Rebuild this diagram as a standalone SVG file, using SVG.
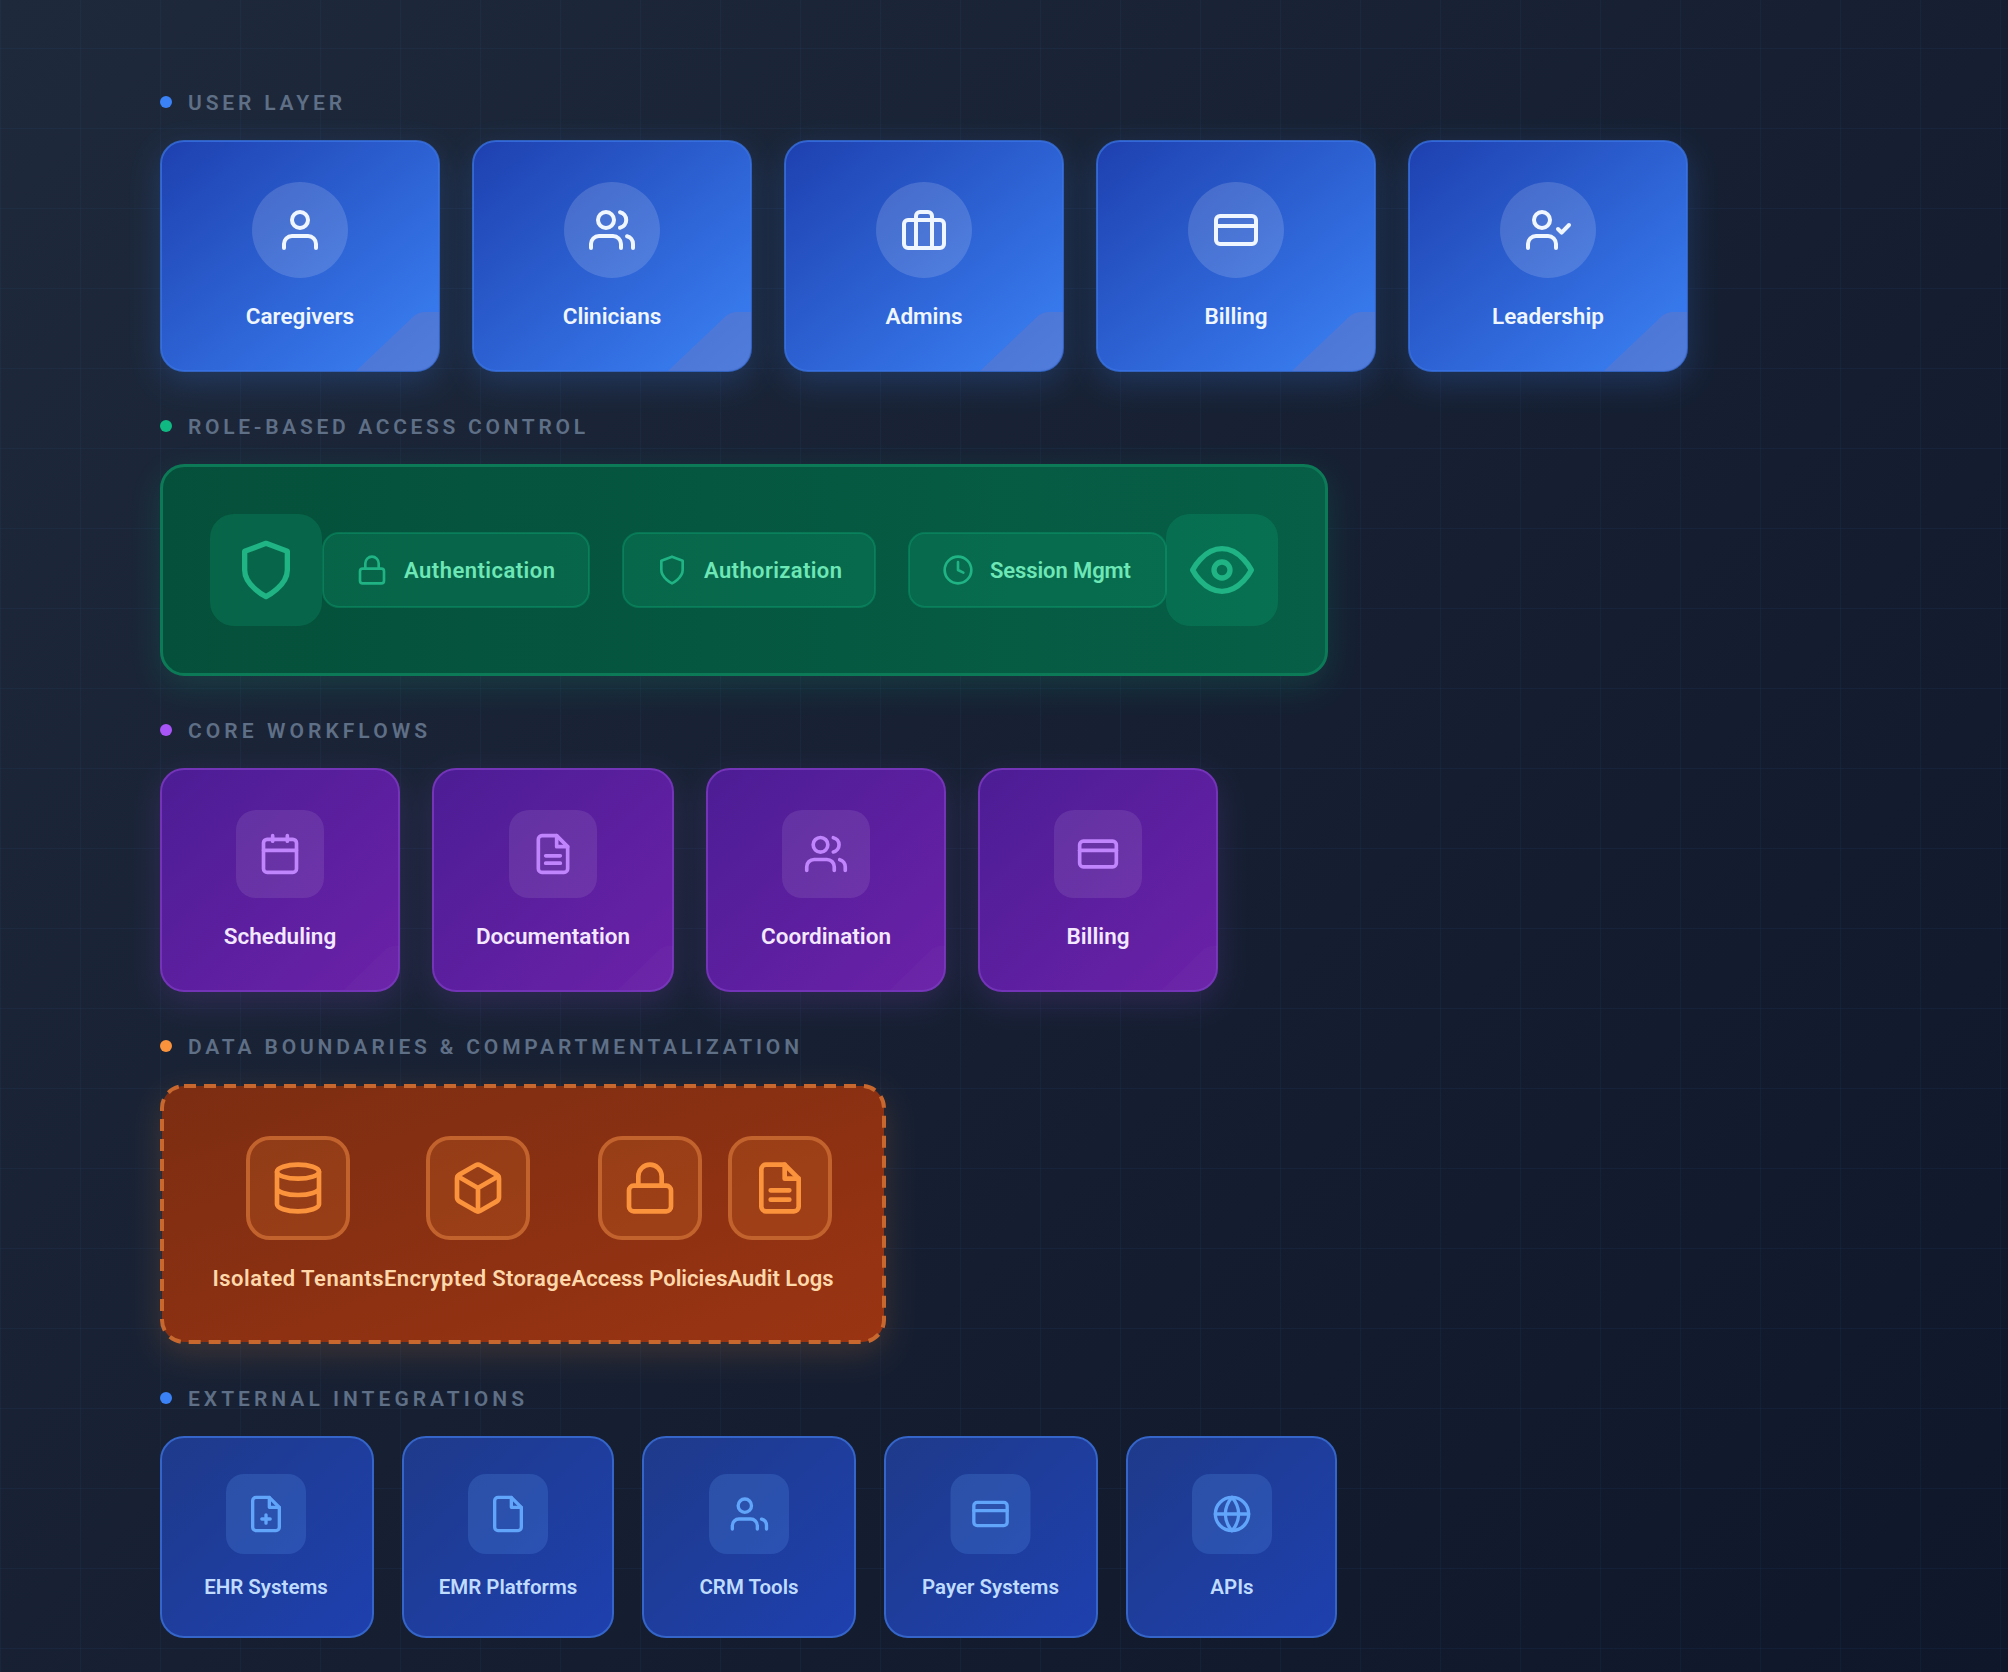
<svg xmlns="http://www.w3.org/2000/svg" width="2008" height="1672" viewBox="0 0 2008 1672">
<style>
text{font-family:"Roboto","Noto Sans",sans-serif}
.sec{font-size:21px;font-weight:600;fill:#5f6f86}
.lbl{font-weight:600;text-anchor:middle}
.ic{fill:none;stroke-linecap:round;stroke-linejoin:round}
.u-sh{fill:#3b82f6;opacity:.22}
.u-card{fill:url(#gU);stroke:#3a74e6;stroke-opacity:.75;stroke-width:2}
.u-cir{fill:#fff;fill-opacity:.15}
.u-ic{stroke:#eff6ff;stroke-width:2}
.u-t{font-size:22.500px;fill:#eff6ff}
.pill{fill:#10b981;fill-opacity:.18;stroke:#10b981;stroke-opacity:.3;stroke-width:2}
.g-ic{stroke:#20b384;stroke-width:2}
.g-t{font-size:22px;font-weight:600;fill:#6ee7b7}
.g-box{fill:#10b981;fill-opacity:.2}
.p-sh{fill:#a855f7;opacity:.16}
.p-card{fill:url(#gP);stroke:#7434b8;stroke-width:2}
.p-box{fill:#fff;fill-opacity:.09}
.p-ic{stroke:#c084fc;stroke-width:2}
.p-t{font-size:22.500px;fill:#f3e8ff}
.o-box{fill:#fb923c;fill-opacity:.14;stroke:#c2622d;stroke-width:4}
.o-ic{stroke:#fb923c;stroke-width:2}
.o-t{font-size:22px;font-weight:600;fill:#fed7aa}
.e-card{fill:url(#gE);stroke:#3565c8;stroke-width:2}
.e-box{fill:#60a5fa;fill-opacity:.2}
.e-ic{stroke:#60a5fa;stroke-width:2}
.e-t{font-size:20.500px;fill:#bfdbfe}
</style>
<defs>
<linearGradient id="bg" gradientUnits="userSpaceOnUse" x1="84" y1="-84" x2="1924" y2="1756"><stop offset="0" stop-color="#1e293b"/><stop offset="1" stop-color="#0f172a"/></linearGradient>
<linearGradient id="gU" x1="0" y1="0" x2="1" y2="1"><stop offset="0" stop-color="#1e40af"/><stop offset="1" stop-color="#3b82f6"/></linearGradient>
<linearGradient id="gG" x1="0" y1="0" x2="1" y2="0"><stop offset="0" stop-color="#05503a"/><stop offset="1" stop-color="#065f46"/></linearGradient>
<linearGradient id="gP" x1="0" y1="0" x2="1" y2="1"><stop offset="0" stop-color="#4c1d95"/><stop offset="1" stop-color="#6b21a8"/></linearGradient>
<linearGradient id="gO" x1="0" y1="0" x2="1" y2="1"><stop offset="0" stop-color="#7c2d12"/><stop offset="1" stop-color="#9a3412"/></linearGradient>
<linearGradient id="gE" x1="0" y1="0" x2="1" y2="1"><stop offset="0" stop-color="#1e3a8a"/><stop offset="1" stop-color="#1e40af"/></linearGradient>
<pattern id="grid" width="80" height="80" patternUnits="userSpaceOnUse" patternTransform="translate(0 48)"><path d="M.5 0V80M0 .5H80" fill="none" stroke="#3b82f6" stroke-opacity=".05"/></pattern>
<filter id="sh" x="-30%" y="-30%" width="160%" height="170%"><feGaussianBlur stdDeviation="16"/></filter>
<symbol id="i-user" viewBox="0 0 24 24"><circle cx="12" cy="7" r="4"/><path d="M4 21v-2a4 4 0 0 1 4-4h8a4 4 0 0 1 4 4v2"/></symbol>
<symbol id="i-users" viewBox="0 0 24 24"><circle cx="9" cy="7" r="4"/><path d="M1.500 21v-2a4 4 0 0 1 4-4h7a4 4 0 0 1 4 4v2M16 3.100a4 4 0 0 1 0 7.800M22.500 21v-2a4 4 0 0 0-3-3.900"/></symbol>
<symbol id="i-users2" viewBox="0 0 24 24"><circle cx="9.500" cy="7" r="4"/><path d="M2 21v-2a4 4 0 0 1 4-4h7a4 4 0 0 1 4 4v2M22.500 21v-2a4 4 0 0 0-3-3.900"/></symbol>
<symbol id="i-case" viewBox="0 0 24 24"><rect x="2" y="7" width="20" height="14" rx="2"/><path d="M16 21V5a2 2 0 0 0-2-2h-4a2 2 0 0 0-2 2v16"/></symbol>
<symbol id="i-card" viewBox="0 0 24 24"><rect x="2" y="5" width="20" height="14" rx="2"/><path d="M2 10h20"/></symbol>
<symbol id="i-ucheck" viewBox="0 0 24 24"><circle cx="9" cy="7" r="4"/><path d="M2 21v-2a4 4 0 0 1 4-4h6a4 4 0 0 1 4 4v2M17 11.500l1.800 1.800 3.700-3.800"/></symbol>
<symbol id="i-shield" viewBox="0 0 24 24"><path d="M12 22s8-4 8-10V5l-8-3-8 3v7c0 6 8 10 8 10z"/></symbol>
<symbol id="i-lock" viewBox="0 0 24 24"><rect x="3" y="11" width="18" height="11" rx="2"/><path d="M7 11V7a5 5 0 0 1 10 0v4"/></symbol>
<symbol id="i-clock" viewBox="0 0 24 24"><circle cx="12" cy="12" r="10"/><path d="M12 6v6l4 2"/></symbol>
<symbol id="i-eye" viewBox="0 0 24 24"><path d="M1 12s4-8 11-8 11 8 11 8-4 8-11 8-11-8-11-8z"/><circle cx="12" cy="12" r="3"/></symbol>
<symbol id="i-cal" viewBox="0 0 24 24"><rect x="3" y="4" width="18" height="18" rx="2"/><path d="M16 2v3M8 2v3M3 10h18"/></symbol>
<symbol id="i-doc" viewBox="0 0 24 24"><path d="M14 2H6a2 2 0 0 0-2 2v16a2 2 0 0 0 2 2h12a2 2 0 0 0 2-2V8z"/><path d="M14 2v6h6M8 13h8M8 17h8"/></symbol>
<symbol id="i-db" viewBox="0 0 24 24"><ellipse cx="12" cy="5" rx="9" ry="3"/><path d="M21 12c0 1.660-4 3-9 3s-9-1.340-9-3M3 5v14c0 1.660 4 3 9 3s9-1.340 9-3V5"/></symbol>
<symbol id="i-box" viewBox="0 0 24 24"><path d="M21 16V8a2 2 0 0 0-1-1.730l-7-4a2 2 0 0 0-2 0l-7 4A2 2 0 0 0 3 8v8a2 2 0 0 0 1 1.730l7 4a2 2 0 0 0 2 0l7-4A2 2 0 0 0 21 16z"/><path d="M3.300 7L12 12l8.700-5M12 22V12"/></symbol>
<symbol id="i-fplus" viewBox="0 0 24 24"><path d="M14 2H6a2 2 0 0 0-2 2v16a2 2 0 0 0 2 2h12a2 2 0 0 0 2-2V8z"/><path d="M14 2v6h6M12 12.500v5M9.500 15h5"/></symbol>
<symbol id="i-file" viewBox="0 0 24 24"><path d="M14 2H6a2 2 0 0 0-2 2v16a2 2 0 0 0 2 2h12a2 2 0 0 0 2-2V8z"/><path d="M14 2v6h6"/></symbol>
<symbol id="i-globe" viewBox="0 0 24 24"><circle cx="12" cy="12" r="10"/><path d="M2 12h20M12 2a15.300 15.300 0 0 1 4 10 15.300 15.300 0 0 1-4 10 15.300 15.300 0 0 1-4-10 15.300 15.300 0 0 1 4-10z"/></symbol>
<path id="fold" d="M196 231L254 176Q259 172 265 172H279V208A23 23 0 0 1 256 231Z" fill="#6678c4" fill-opacity=".5"/>
<path id="pfold" d="M184 222L225 182Q230 178 234 178H239V200A23 23 0 0 1 216 223Z" fill="#fff" fill-opacity=".02"/>
</defs>
<rect id="background" width="2008" height="1672" fill="url(#bg)"/>
<rect width="2008" height="1672" fill="url(#grid)"/>
<g id="connectors"/>

<g id="section-user"><circle cx="166" cy="102" r="6" fill="#3b82f6"/><text class="sec" x="188" y="110" textLength="154">USER LAYER</text></g>
<g id="section-rbac"><circle cx="166" cy="426" r="6" fill="#10b981"/><text class="sec" x="188" y="434" textLength="397">ROLE-BASED ACCESS CONTROL</text></g>
<g id="section-core"><circle cx="166" cy="730" r="6" fill="#a855f7"/><text class="sec" x="188" y="738" textLength="239">CORE WORKFLOWS</text></g>
<g id="section-data"><circle cx="166" cy="1046" r="6" fill="#fb923c"/><text class="sec" x="188" y="1054" textLength="611">DATA BOUNDARIES &amp; COMPARTMENTALIZATION</text></g>
<g id="section-ext"><circle cx="166" cy="1398" r="6" fill="#3b82f6"/><text class="sec" x="188" y="1406" textLength="336">EXTERNAL INTEGRATIONS</text></g>

<!-- user layer -->
<g id="caregivers" transform="translate(160 140)"><rect class="u-sh" y="10" width="280" height="232" rx="24" filter="url(#sh)"/><rect class="u-card" x="1" y="1" width="278" height="230" rx="23"/><use href="#fold"/><circle class="u-cir" cx="140" cy="90" r="48"/><use href="#i-user" class="ic u-ic" x="116" y="66" width="48" height="48"/><text class="lbl u-t" x="140" y="184">Caregivers</text></g>
<g id="clinicians" transform="translate(472 140)"><rect class="u-sh" y="10" width="280" height="232" rx="24" filter="url(#sh)"/><rect class="u-card" x="1" y="1" width="278" height="230" rx="23"/><use href="#fold"/><circle class="u-cir" cx="140" cy="90" r="48"/><use href="#i-users" class="ic u-ic" x="116" y="66" width="48" height="48"/><text class="lbl u-t" x="140" y="184">Clinicians</text></g>
<g id="admins" transform="translate(784 140)"><rect class="u-sh" y="10" width="280" height="232" rx="24" filter="url(#sh)"/><rect class="u-card" x="1" y="1" width="278" height="230" rx="23"/><use href="#fold"/><circle class="u-cir" cx="140" cy="90" r="48"/><use href="#i-case" class="ic u-ic" x="116" y="66" width="48" height="48"/><text class="lbl u-t" x="140" y="184">Admins</text></g>
<g id="billing-user" transform="translate(1096 140)"><rect class="u-sh" y="10" width="280" height="232" rx="24" filter="url(#sh)"/><rect class="u-card" x="1" y="1" width="278" height="230" rx="23"/><use href="#fold"/><circle class="u-cir" cx="140" cy="90" r="48"/><use href="#i-card" class="ic u-ic" x="116" y="66" width="48" height="48"/><text class="lbl u-t" x="140" y="184">Billing</text></g>
<g id="leadership" transform="translate(1408 140)"><rect class="u-sh" y="10" width="280" height="232" rx="24" filter="url(#sh)"/><rect class="u-card" x="1" y="1" width="278" height="230" rx="23"/><use href="#fold"/><circle class="u-cir" cx="140" cy="90" r="48"/><use href="#i-ucheck" class="ic u-ic" x="116" y="66" width="48" height="48"/><text class="lbl u-t" x="140" y="184">Leadership</text></g>

<!-- rbac -->
<g id="rbac">
<rect x="160" y="474" width="1168" height="212" rx="24" fill="#10b981" opacity=".16" filter="url(#sh)"/>
<rect x="161.500" y="465.500" width="1165" height="209" rx="23" fill="url(#gG)" stroke="#0d7a57" stroke-width="3"/>
<g id="rbac-shield"><rect class="g-box" x="210" y="514" width="112" height="112" rx="24"/><use href="#i-shield" class="ic g-ic" x="234" y="538" width="64" height="64"/></g>
<g id="authentication"><rect class="pill" x="323" y="533" width="266" height="74" rx="16"/><use href="#i-lock" class="ic g-ic" x="356" y="554" width="32" height="32"/><text class="g-t" x="404" y="578" textLength="151">Authentication</text></g>
<g id="authorization"><rect class="pill" x="623" y="533" width="252" height="74" rx="16"/><use href="#i-shield" class="ic g-ic" x="656" y="554" width="32" height="32"/><text class="g-t" x="704" y="578" textLength="138">Authorization</text></g>
<g id="session"><rect class="pill" x="909" y="533" width="257" height="74" rx="16"/><use href="#i-clock" class="ic g-ic" x="942" y="554" width="32" height="32"/><text class="g-t" x="990" y="578" textLength="141">Session Mgmt</text></g>
<g id="rbac-eye"><rect class="g-box" x="1166" y="514" width="112" height="112" rx="24"/><use href="#i-eye" class="ic g-ic" x="1190" y="538" width="64" height="64"/></g>
</g>

<!-- workflows -->
<g id="scheduling" transform="translate(160 768)"><rect class="p-sh" y="10" width="240" height="224" rx="24" filter="url(#sh)"/><rect class="p-card" x="1" y="1" width="238" height="222" rx="23"/><use href="#pfold"/><rect class="p-box" x="76" y="42" width="88" height="88" rx="20"/><use href="#i-cal" class="ic p-ic" x="98" y="64" width="44" height="44"/><text class="lbl p-t" x="120" y="176">Scheduling</text></g>
<g id="documentation" transform="translate(432 768)"><rect class="p-sh" y="10" width="242" height="224" rx="24" filter="url(#sh)"/><rect class="p-card" x="1" y="1" width="240" height="222" rx="23"/><use href="#pfold" x="2"/><rect class="p-box" x="77" y="42" width="88" height="88" rx="20"/><use href="#i-doc" class="ic p-ic" x="99" y="64" width="44" height="44"/><text class="lbl p-t" x="121" y="176">Documentation</text></g>
<g id="coordination" transform="translate(706 768)"><rect class="p-sh" y="10" width="240" height="224" rx="24" filter="url(#sh)"/><rect class="p-card" x="1" y="1" width="238" height="222" rx="23"/><use href="#pfold"/><rect class="p-box" x="76" y="42" width="88" height="88" rx="20"/><use href="#i-users" class="ic p-ic" x="98" y="64" width="44" height="44"/><text class="lbl p-t" x="120" y="176">Coordination</text></g>
<g id="billing-flow" transform="translate(978 768)"><rect class="p-sh" y="10" width="240" height="224" rx="24" filter="url(#sh)"/><rect class="p-card" x="1" y="1" width="238" height="222" rx="23"/><use href="#pfold"/><rect class="p-box" x="76" y="42" width="88" height="88" rx="20"/><use href="#i-card" class="ic p-ic" x="98" y="64" width="44" height="44"/><text class="lbl p-t" x="120" y="176">Billing</text></g>

<!-- data -->
<g id="data-boundaries">
<rect x="160" y="1094" width="726" height="260" rx="24" fill="#fb923c" opacity=".16" filter="url(#sh)"/>
<rect x="162" y="1086" width="722" height="256" rx="22" fill="url(#gO)" stroke="#c8682f" stroke-width="4" stroke-dasharray="12 8"/>
<g id="isolated"><rect class="o-box" x="248" y="1138" width="100" height="100" rx="22"/><use href="#i-db" class="ic o-ic" x="270" y="1160" width="56" height="56"/><text class="o-t" x="212.500" y="1286" textLength="171">Isolated Tenants</text></g>
<g id="encrypted"><rect class="o-box" x="428" y="1138" width="100" height="100" rx="22"/><use href="#i-box" class="ic o-ic" x="450" y="1160" width="56" height="56"/><text class="o-t" x="384" y="1286" textLength="187">Encrypted Storage</text></g>
<g id="access"><rect class="o-box" x="600" y="1138" width="100" height="100" rx="22"/><use href="#i-lock" class="ic o-ic" x="622" y="1160" width="56" height="56"/><text class="o-t" x="571.500" y="1286" textLength="156">Access Policies</text></g>
<g id="audit"><rect class="o-box" x="730" y="1138" width="100" height="100" rx="22"/><use href="#i-doc" class="ic o-ic" x="752" y="1160" width="56" height="56"/><text class="o-t" x="727.500" y="1286" textLength="106">Audit Logs</text></g>
</g>

<!-- external -->
<g id="ehr" transform="translate(160 1436)"><rect class="e-card" x="1" y="1" width="212" height="200" rx="23"/><rect class="e-box" x="66" y="38" width="80" height="80" rx="18"/><use href="#i-fplus" class="ic e-ic" x="86" y="58" width="40" height="40"/><text class="lbl e-t" x="106" y="158">EHR Systems</text></g>
<g id="emr" transform="translate(402 1436)"><rect class="e-card" x="1" y="1" width="210" height="200" rx="23"/><rect class="e-box" x="66" y="38" width="80" height="80" rx="18"/><use href="#i-file" class="ic e-ic" x="86" y="58" width="40" height="40"/><text class="lbl e-t" x="106" y="158">EMR Platforms</text></g>
<g id="crm" transform="translate(642 1436)"><rect class="e-card" x="1" y="1" width="212" height="200" rx="23"/><rect class="e-box" x="67" y="38" width="80" height="80" rx="18"/><use href="#i-users2" class="ic e-ic" x="87" y="58" width="40" height="40"/><text class="lbl e-t" x="107" y="158">CRM Tools</text></g>
<g id="payer" transform="translate(884 1436)"><rect class="e-card" x="1" y="1" width="212" height="200" rx="23"/><rect class="e-box" x="66.500" y="38" width="80" height="80" rx="18"/><use href="#i-card" class="ic e-ic" x="86.500" y="58" width="40" height="40"/><text class="lbl e-t" x="106.500" y="158">Payer Systems</text></g>
<g id="apis" transform="translate(1126 1436)"><rect class="e-card" x="1" y="1" width="209" height="200" rx="23"/><rect class="e-box" x="66" y="38" width="80" height="80" rx="18"/><use href="#i-globe" class="ic e-ic" x="86" y="58" width="40" height="40"/><text class="lbl e-t" x="106" y="158">APIs</text></g>
</svg>
